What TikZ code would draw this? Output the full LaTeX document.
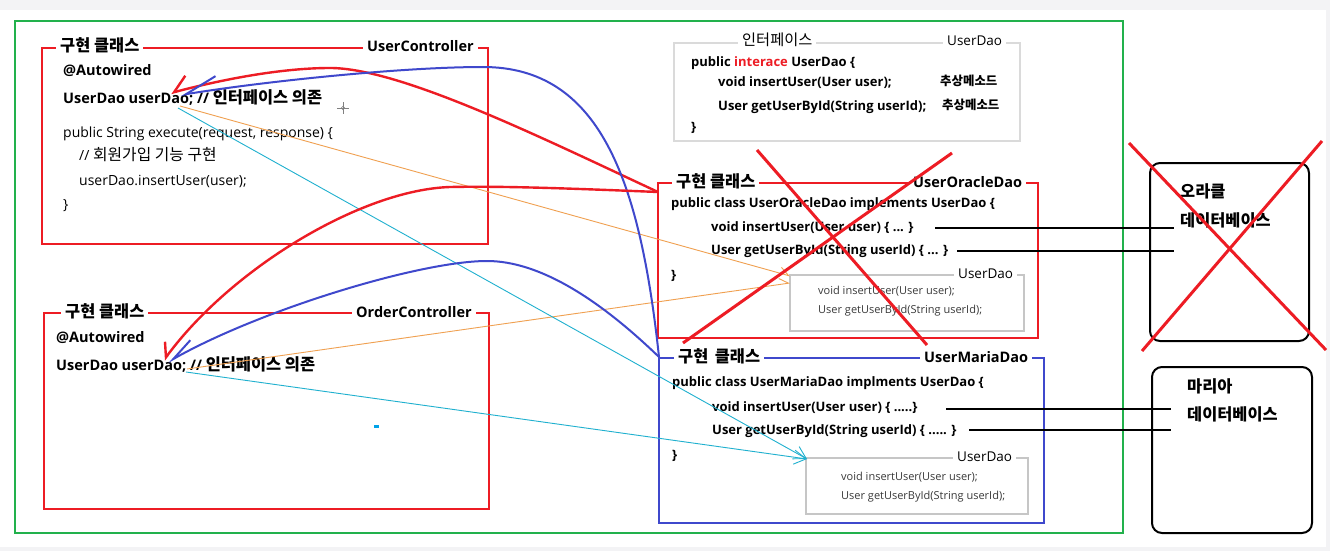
\documentclass[tikz,border=0pt]{standalone}
\usepackage{fontspec}
\setmainfont{Open Sans}
\newfontfamily\krfont[Scale=1.13]{Noto Sans CJK KR}
\newcommand\kor[1]{{\krfont #1}}
\usetikzlibrary{arrows.meta}
\definecolor{pred}{HTML}{ED1C24}
\definecolor{pblue}{HTML}{3F48CC}
\definecolor{pgreen}{HTML}{22B14C}
\definecolor{lgrey}{HTML}{C6C6C6}
\definecolor{igrey}{HTML}{DADADA}
\definecolor{porange}{HTML}{F0A050}
\definecolor{pcyan}{HTML}{1FB0CF}
\definecolor{pdash}{HTML}{00A2E8}
\definecolor{bgc}{HTML}{F3F3F5}
\definecolor{dgrey}{HTML}{3A3A3A}
\begin{document}
\begin{tikzpicture}[x=1pt,y=-1pt,
  box/.style={line width=2.4pt},
  ttl/.style={fill=white, inner xsep=4pt, inner ysep=1pt, anchor=west, text height=11pt, text depth=3pt, font=\bfseries\fontsize{14.5}{16}\selectfont},
  ittl/.style={fill=white, inner xsep=4pt, inner ysep=1pt, anchor=west, text height=10pt, text depth=3pt, font=\fontsize{13.5}{16}\selectfont},
  code/.style={anchor=west, inner sep=0pt, text height=10pt, text depth=3pt, font=\bfseries\fontsize{13}{16}\selectfont},
  codeB/.style={code, font=\bfseries\fontsize{14.5}{16}\selectfont},
  codeR/.style={anchor=west, inner sep=0pt, text height=10pt, text depth=3pt, font=\fontsize{14}{16}\selectfont},
  smalltxt/.style={anchor=west, inner sep=0pt, text height=8pt, text depth=2.5pt, text=dgrey, font=\fontsize{11}{13}\selectfont},
  note/.style={anchor=west, inner sep=0pt, text height=8pt, text depth=2.5pt, font=\bfseries\fontsize{11}{13}\selectfont},
  dbtxt/.style={anchor=west, inner sep=0pt, text height=11pt, text depth=3pt, font=\bfseries\fontsize{14.5}{16}\selectfont},
  thinlink/.style={line width=0.9pt},
]
\useasboundingbox (0,0) rectangle (1330,551);
\fill[bgc] (0,0) rectangle (1330,551);
\fill[white] (0,10) rectangle (1326,547);

% outer green frame
\draw[pgreen, line width=2pt] (15,21) rectangle (1123,533);

% ---------- UserController ----------
\draw[pred, box] (42,48) rectangle (488,244);
\node[ttl] (ucT1) at (56,48) {\kor{구현 클래스}};
\node[ttl] (ucT2) at (363,48) {UserController};
\node[codeB] (uc1) at (63,72) {@Autowired};
\node[codeB] (ucDao) at (63,100) {UserDao userDao; // \kor{인터페이스 의존}};
\node[codeR] (uc3) at (63,134) {public String execute(request, response) \{};
\node[codeR] (uc4) at (79,157) {// \kor{회원가입 기능 구현}};
\node[codeR] (uc5) at (79,182) {userDao.insertUser(user);};
\node[codeR] (uc6) at (63,206) {\}};
% cursor
\draw[gray, line width=0.8pt] (337,108) -- (349,108) (343,102) -- (343,114);
\draw[gray, line width=0.6pt] (343,108) circle (1.8);

% ---------- OrderController ----------
\draw[pred, box] (44,313) rectangle (489,509);
\node[ttl] (ocT1) at (61,313) {\kor{구현 클래스}};
\node[ttl] (ocT2) at (352,313) {OrderController};
\node[codeB] (oc1) at (56,339) {@Autowired};
\node[codeB] (ocDao) at (56,367) {UserDao userDao; // \kor{인터페이스 의존}};
\fill[pdash] (374,425) rectangle (379,427.5);

% ---------- Interface UserDao ----------
\draw[igrey, line width=1.5pt] (674,43) rectangle (1020,141);
\node[ittl] (ifT1) at (738,42) {\kor{인터페이스}};
\node[ittl] (ifT2) at (943,42) {UserDao};
\node[code] (if1) at (691,63) {public \textcolor{pred}{interace} UserDao \{};
\node[code] (if2) at (718,83) {void insertUser(User user);};
\node[note] (if2n) at (940,83) {\kor{추상메소드}};
\node[code] (if3) at (718,107) {User getUserById(String userId);};
\node[note] (if3n) at (942,107) {\kor{추상메소드}};
\node[code] (if4) at (691,128) {\}};

% ---------- UserOracleDao ----------
\draw[pred, box] (658,183) rectangle (1038,338);
\node[ttl] (orT1) at (672,183) {\kor{구현 클래스}};
\node[ttl] (orT2) at (909,183) {UserOracleDao};
\node[code] (or1) at (671,204) {public class UserOracleDao implements UserDao \{};
\node[code] (or2) at (711,228) {void insertUser(User user) \{ ... \}};
\node[code] (or3) at (711,251) {User getUserById(String userId) \{ ... \}};
\node[code] (or4) at (671,276) {\}};
\draw[lgrey, line width=2pt] (790,275) rectangle (1024,331);
\node[ittl] (orIT) at (954,275) {UserDao};
\node[smalltxt] (orI1) at (818,292) {void insertUser(User user);};
\node[smalltxt] (orI2) at (818,311) {User getUserById(String userId);};

% ---------- UserMariaDao ----------
\draw[pblue, box] (659,358) rectangle (1044,523);
\node[ttl] (maT1) at (674,358) {\kor{구현\hspace{0.4em}클래스}};
\node[ttl] (maT2) at (920,358) {UserMariaDao};
\node[code] (ma1) at (672,383) {public class UserMariaDao implments UserDao \{};
\node[code] (ma2) at (712,408) {void insertUser(User user) \{ .....\}};
\node[code] (ma3) at (712,431) {User getUserById(String userId) \{ ..... \}};
\node[code] (ma4) at (672,456) {\}};
\draw[lgrey, line width=2pt] (806,458) rectangle (1028,514);
\node[ittl] (maIT) at (953,458) {UserDao};
\node[smalltxt] (maI1) at (841,478) {void insertUser(User user);};
\node[smalltxt] (maI2) at (841,497) {User getUserById(String userId);};

% ---------- databases ----------
\node[draw, line width=2pt, rounded corners=10pt, minimum width=159pt, minimum height=178pt, inner sep=0pt] (oraDB) at (1229.5,252) {};
\node[dbtxt] (oraDB1) at (1180,193) {\kor{오라클}};
\node[dbtxt] (oraDB2) at (1180,222) {\kor{데이터베이스}};
\node[draw, line width=2pt, rounded corners=10pt, minimum width=160pt, minimum height=166pt, inner sep=0pt] (mariaDB) at (1232,450) {};
\node[dbtxt] (mariaDB1) at (1187,388) {\kor{마리아}};
\node[dbtxt] (mariaDB2) at (1187,416) {\kor{데이터베이스}};

% ---------- connector end points ----------
\coordinate (oraA) at (658,192);
\coordinate (maA) at (659,357);
\coordinate (ucR) at (171,93);
\coordinate (ucB) at (181,95);
\coordinate (ucO) at (180,106);
\coordinate (ucC) at (178,108);
\coordinate (ocR) at (164,360);
\coordinate (ocB) at (168,362);
\coordinate (ocO) at (187,369);
\coordinate (ocC) at (186,372);
\coordinate (orIn1) at (790,276);
\coordinate (orIn2) at (790,283);
\coordinate (maIn) at (807,459);
\coordinate (or2e) at (935,228);
\coordinate (or3e) at (957,251);
\coordinate (ora1) at (1174,228);
\coordinate (ora2) at (1174,251);
\coordinate (ma2e) at (946,409);
\coordinate (ma3e) at (969,430);
\coordinate (mar1) at (1171,409);
\coordinate (mar2) at (1171,430);

% black method -> database lines
\draw[black, line width=2pt] (or2e) -- (ora1);
\draw[black, line width=2pt] (or3e) -- (ora2);
\draw[black, line width=2pt] (ma2e) -- (mar1);
\draw[black, line width=2pt] (ma3e) -- (mar2);

% thin dependency lines
\draw[porange, thinlink, -{Straight Barb[length=9pt,width=12pt,harpoon]}] (ucO) -- (orIn1);
\draw[porange, thinlink, -{Straight Barb[length=9pt,width=12pt,harpoon]}] (ocO) -- (orIn2);
\draw[pcyan, thinlink, -{Straight Barb[length=12pt,width=14pt]}] (ucC) -- (maIn);
\draw[pcyan, thinlink, -{Straight Barb[length=12pt,width=14pt]}] (ocC) -- (maIn);

% injection curves
\draw[pred, line width=2.4pt, -{Straight Barb[length=15pt,width=26pt,harpoon,swap]}]
  (oraA) .. controls (540,137) and (400,68) .. (330,68) .. controls (280,68) and (220,80) .. (ucR);
\draw[pblue, line width=2pt, -{Straight Barb[length=32pt,width=26pt,harpoon,swap]}]
  (maA) .. controls (640,180) and (600,67) .. (483,67) .. controls (400,67) and (260,82) .. (ucB);
\draw[pred, line width=2.4pt, -{Straight Barb[length=12pt,width=20pt,harpoon,swap]}]
  (oraA) .. controls (560,188) and (500,186) .. (450,187) .. controls (360,190) and (230,270) .. (ocR);
\draw[pblue, line width=2pt, -{Straight Barb[length=24pt,width=16pt,harpoon,swap]}]
  (maA) .. controls (600,300) and (540,261) .. (487,261) .. controls (420,261) and (260,310) .. (ocB);

% red crosses
\draw[pred, line width=3pt] (757,150) -- (927,345);
\draw[pred, line width=3pt] (952,153) -- (683,343);
\draw[pred, line width=3pt] (1129,143) -- (1326,350);
\draw[pred, line width=3pt] (1322,141) -- (1142,351);
\end{tikzpicture}
\end{document}
